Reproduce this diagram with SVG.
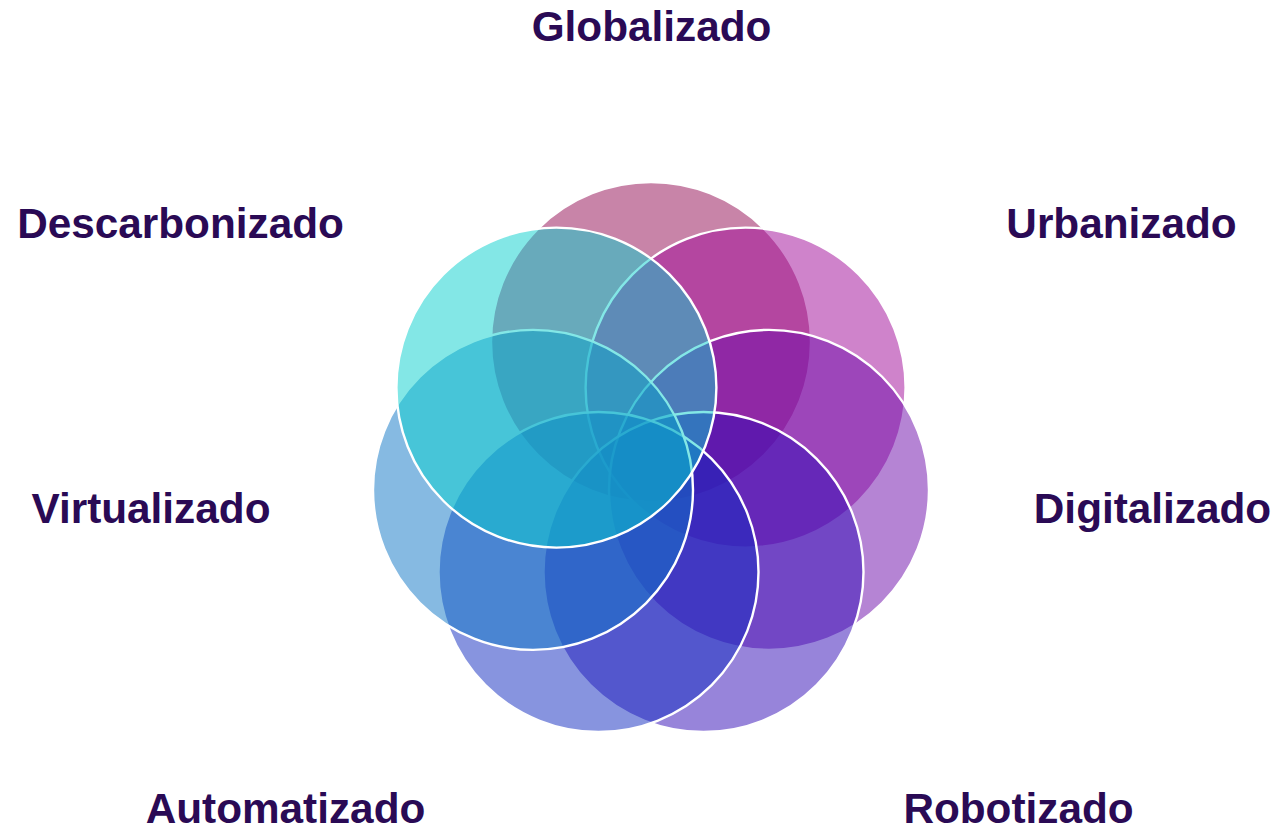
<svg xmlns="http://www.w3.org/2000/svg" width="1278" height="830" viewBox="0 0 1278 830">
<style>
.c{fill-opacity:0.5;stroke:#FFFFFF;stroke-width:2.4}
.t{font-family:"Liberation Sans",Arial,sans-serif;font-weight:bold;font-size:42.3px;fill:#2A0A55;text-anchor:middle}
</style>
<rect width="1278" height="830" fill="#FFFFFF"/>
<g id="globalizado"><circle class="c" cx="651" cy="342" r="160" fill="#910951"/><text class="t" x="651.5" y="41">Globalizado</text></g>
<g id="urbanizado"><circle class="c" cx="745.6" cy="387.6" r="160" fill="#9F0797"/><text class="t" x="1121.5" y="238">Urbanizado</text></g>
<g id="digitalizado"><circle class="c" cx="769" cy="489.9" r="160" fill="#6B09A9"/><text class="t" x="1152.5" y="523">Digitalizado</text></g>
<g id="robotizado"><circle class="c" cx="703.5" cy="572" r="160" fill="#2F09B5"/><text class="t" x="1018.5" y="823">Robotizado</text></g>
<g id="automatizado"><circle class="c" cx="598.5" cy="572" r="160" fill="#0F29BF"/><text class="t" x="285.5" y="823">Automatizado</text></g>
<g id="virtualizado"><circle class="c" cx="533" cy="489.9" r="160" fill="#0D75C5"/><text class="t" x="151" y="523">Virtualizado</text></g>
<g id="descarbonizado"><circle class="c" cx="556.4" cy="387.6" r="160" fill="#07CFCD"/><text class="t" x="180.5" y="238">Descarbonizado</text></g>
<g id="connectors"></g>
</svg>
